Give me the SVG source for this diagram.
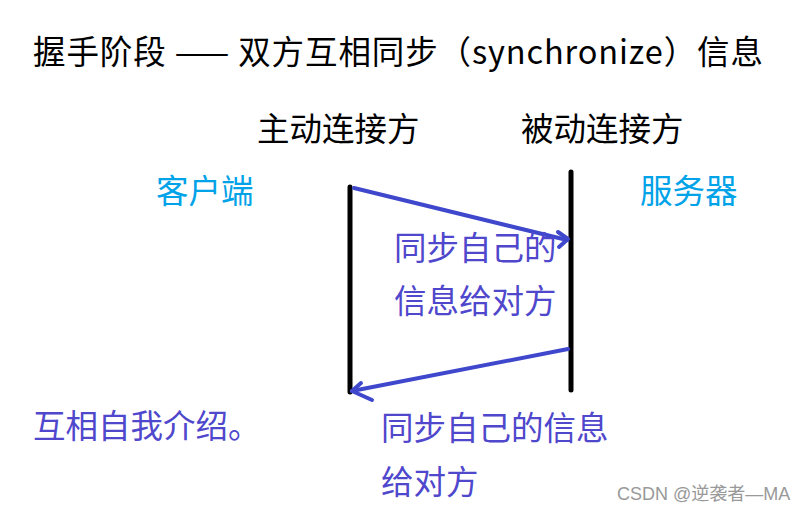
<svg xmlns="http://www.w3.org/2000/svg" width="812" height="512" viewBox="0 0 812 512">
<style>
text{font-family:"Noto Sans CJK SC","Noto Sans",sans-serif;font-size:32.5px}
.k{fill:#000}
.c{fill:#00a2e8}
.b{fill:#4f47cc}
.w{fill:#999;font-size:18px;font-family:"Liberation Sans","Noto Sans CJK SC",sans-serif}
.ln{stroke:#000;stroke-width:5;stroke-linecap:round}
.ar{stroke:#3f48cc;stroke-width:4;fill:none;stroke-linecap:round;stroke-linejoin:round}
</style>
<rect width="812" height="512" fill="#fff"/>
<g id="title"><text class="k" x="33" y="64" textLength="730" lengthAdjust="spacing">握手阶段 —— 双方互相同步（synchronize）信息</text></g>
<g id="active"><text class="k" x="257" y="141">主动连接方</text></g>
<g id="passive"><text class="k" x="521" y="141">被动连接方</text></g>
<g id="client"><text class="c" x="156" y="203">客户端</text></g>
<g id="server"><text class="c" x="640" y="203">服务器</text></g>
<g id="client-line"><line class="ln" x1="350" y1="187" x2="350" y2="392"/></g>
<g id="server-line"><line class="ln" x1="571" y1="172" x2="571" y2="390"/></g>
<g id="connectors">
<path class="ar" d="M354 188 L567 240"/>
<path class="ar" d="M558 232 L568 239 L559 247"/>
<path class="ar" d="M568 349 L352 391"/>
<path class="ar" d="M361 383 L352 391 L372 400"/>
</g>
<g id="label1"><text class="b" x="394" y="260">同步自己的</text><text class="b" x="394" y="313">信息给对方</text></g>
<g id="intro"><text class="b" x="33" y="438">互相自我介绍。</text></g>
<g id="label2"><text class="b" x="381" y="440">同步自己的信息</text><text class="b" x="381" y="494">给对方</text></g>
<g id="watermark"><text class="w" x="617" y="500">CSDN @逆袭者—MA</text></g>
</svg>
